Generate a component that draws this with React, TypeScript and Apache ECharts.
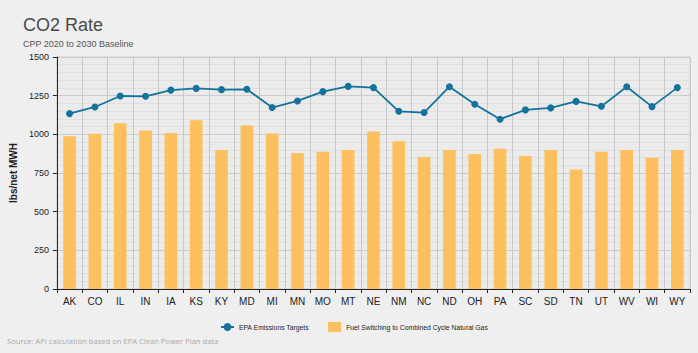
import React, { useEffect, useRef } from "react";
import * as echarts from "echarts";

const states = ["AK","CO","IL","IN","IA","KS","KY","MD","MI","MN","MO","MT","NE","NM","NC","ND","OH","PA","SC","SD","TN","UT","WV","WI","WY"];
const epaTargets = [1134,1177,1248,1246,1286,1297,1289,1291,1173,1216,1276,1310,1302,1149,1141,1308,1194,1098,1158,1171,1213,1181,1308,1179,1302];
const fuelSwitching = [988,1003,1072,1025,1008,1091,898,1057,1006,879,887,898,1019,956,853,898,873,907,860,898,772,887,898,849,898];
const yTicks = { min: 0, max: 1500, interval: 250 };

export default function App() {
  const ref = useRef<HTMLDivElement>(null);
  useEffect(() => {
    if (!ref.current) return;
    const chart = echarts.init(ref.current, null, { renderer: "svg" });
    chart.setOption({
      animation: false,
      backgroundColor: "#efefef",
      textStyle: { fontFamily: "Liberation Sans, Arial, sans-serif" },
      title: {
        text: "CO2 Rate",
        subtext: "CPP 2020 to 2030 Baseline",
        left: 18,
        top: 11,
        itemGap: 5,
        textStyle: { fontSize: 18, fontWeight: "normal", color: "#4a4a4a" },
        subtextStyle: { fontSize: 9, color: "#555" },
      },
      grid: {
        left: 55, right: 8, top: 57, bottom: 64,
        show: true, backgroundColor: "#ebebeb", borderColor: "#cfcfcf", borderWidth: 1,
      },
      legend: {
        left: 215, top: 317,
        itemWidth: 13, itemHeight: 10, itemGap: 19,
        textStyle: { fontSize: 6.8, color: "#222" },
        data: [
          { name: "EPA Emissions Targets" },
          { name: "Fuel Switching to Combined Cycle Natural Gas", icon: "rect" },
        ],
      },
      graphic: [
        {
          type: "text", left: 7, top: 337,
          style: { text: "Source: API calculation based on EPA Clean Power Plan data", fill: "#aaaaaa", fontSize: 7.6, fontFamily: "Open Sans, sans-serif" },
        },
      ],
      xAxis: {
        type: "category",
        data: states,
        axisLine: { show: true, lineStyle: { color: "#222" } },
        axisTick: { show: true, inside: false, length: 4, lineStyle: { color: "#222" } },
        axisLabel: { color: "#222", fontSize: 10, margin: 7 },
        splitLine: { show: true, lineStyle: { color: "#c8c8c8", width: 1 } },
      },
      yAxis: {
        type: "value",
        min: yTicks.min, max: yTicks.max, interval: yTicks.interval,
        name: "lbs/net MWH",
        nameLocation: "middle",
        nameGap: 34,
        nameTextStyle: { fontSize: 10, fontWeight: "bold", color: "#222" },
        axisLine: { show: true, lineStyle: { color: "#222" } },
        axisTick: { show: true, length: 4, lineStyle: { color: "#222" } },
        axisLabel: { color: "#222", fontSize: 9, formatter: (v: number) => String(v) },
        splitLine: { show: true, lineStyle: { color: "#cccccc", width: 1 } },
        minorTick: { show: false, splitNumber: 5 },
        minorSplitLine: { show: true, lineStyle: { color: "#e0e0e0", width: 1 } },
      },
      series: [
        {
          name: "Fuel Switching to Combined Cycle Natural Gas",
          type: "bar",
          data: fuelSwitching,
          barWidth: "50%",
          itemStyle: { color: "#fdc05e" },
          z: 2,
        },
        {
          name: "EPA Emissions Targets",
          type: "line",
          data: epaTargets,
          symbol: "circle",
          symbolSize: 7,
          lineStyle: { color: "#14729c", width: 1.8 },
          itemStyle: { color: "#14729c" },
          z: 3,
        },
      ],
    });
    return () => chart.dispose();
  }, []);
  return <div ref={ref} style={{ position: "fixed", left: 0, top: 0, width: 698, height: 353 }} />;
}
